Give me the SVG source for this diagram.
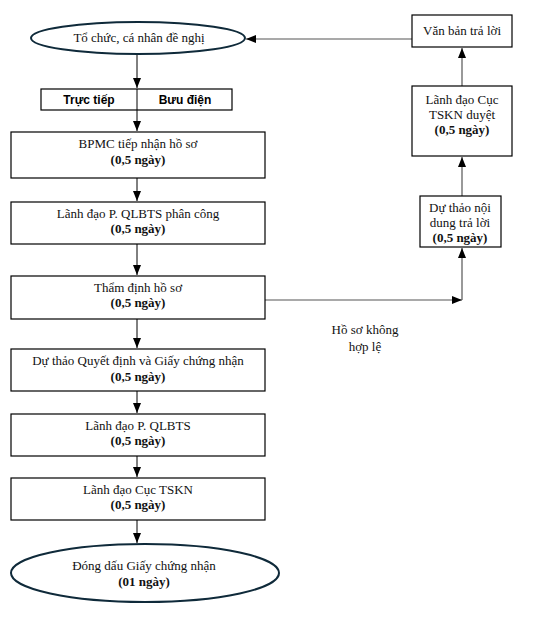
<svg xmlns="http://www.w3.org/2000/svg" width="541" height="619" viewBox="0 0 541 619">
<style>
.t{font-family:"Liberation Serif","Times New Roman",serif;font-size:13px;fill:#111;text-anchor:middle}
.b{font-weight:bold}
.h{font-family:"Liberation Sans Narrow","Liberation Sans",Arial,sans-serif;font-size:12px;font-weight:bold;fill:#000;text-anchor:middle}
.box{fill:#fff;stroke:#000;stroke-width:1.2}
.ell{fill:#fff;stroke:#0f2a3a;stroke-width:2}
.c{fill:none;stroke:#000;stroke-width:1}
.cg{fill:none;stroke:#555;stroke-width:1.2}
</style>
<defs>
<marker id="ah" markerUnits="userSpaceOnUse" markerWidth="10" markerHeight="10" viewBox="0 0 10 10" refX="10" refY="5" orient="auto">
<path d="M0,1 L10,5 L0,9 Z" fill="#000"/>
</marker>
</defs>
<g id="connectors">
<path class="c" d="M137,54 V88" marker-end="url(#ah)"/>
<path class="c" d="M137,110 V131" marker-end="url(#ah)"/>
<path class="c" d="M137,178 V201" marker-end="url(#ah)"/>
<path class="c" d="M137,244 V275" marker-end="url(#ah)"/>
<path class="c" d="M137,319 V348" marker-end="url(#ah)"/>
<path class="c" d="M137,391 V413" marker-end="url(#ah)"/>
<path class="c" d="M137,456 V477" marker-end="url(#ah)"/>
<path class="c" d="M137,520 V543" marker-end="url(#ah)"/>
<path class="cg" d="M265,300 H462" marker-end="url(#ah)"/>
<path class="cg" d="M462,300 V248" marker-end="url(#ah)"/>
<path class="cg" d="M462,196 V157" marker-end="url(#ah)"/>
<path class="cg" d="M462,86 V48" marker-end="url(#ah)"/>
<path class="cg" d="M412,39 H246" marker-end="url(#ah)"/>
<text class="t" x="365" y="334">Hồ sơ không</text>
<text class="t" x="365" y="351">hợp lệ</text>
</g>
<g id="n-start">
<ellipse class="ell" cx="138" cy="38" rx="107" ry="16"/>
<text class="t" x="139" y="42">Tổ chức, cá nhân đề nghị</text>
</g>
<g id="n-channel">
<rect class="box" x="41" y="89" width="191" height="21"/>
<line x1="137" y1="89" x2="137" y2="110" stroke="#000" stroke-width="1"/>
<text class="h" x="89" y="104">Trực tiếp</text>
<text class="h" x="185" y="104">Bưu điện</text>
</g>
<g id="n-bpmc">
<rect class="box" x="11" y="132" width="254" height="46"/>
<text class="t" x="138" y="148">BPMC tiếp nhận hồ sơ</text>
<text class="t b" x="138" y="164">(0,5 ngày)</text>
</g>
<g id="n-phancong">
<rect class="box" x="11" y="202" width="254" height="42"/>
<text class="t" x="138" y="218">Lãnh đạo P. QLBTS phân công</text>
<text class="t b" x="138" y="233">(0,5 ngày)</text>
</g>
<g id="n-thamdinh">
<rect class="box" x="11" y="276" width="254" height="43"/>
<text class="t" x="138" y="292">Thẩm định hồ sơ</text>
<text class="t b" x="138" y="307">(0,5 ngày)</text>
</g>
<g id="n-duthaoqd">
<rect class="box" x="11" y="349" width="254" height="42"/>
<text class="t" x="138" y="365">Dự thảo Quyết định và Giấy chứng nhận</text>
<text class="t b" x="138" y="381">(0,5 ngày)</text>
</g>
<g id="n-qlbts">
<rect class="box" x="11" y="414" width="254" height="42"/>
<text class="t" x="138" y="430">Lãnh đạo P. QLBTS</text>
<text class="t b" x="138" y="445">(0,5 ngày)</text>
</g>
<g id="n-tskn">
<rect class="box" x="11" y="478" width="254" height="42"/>
<text class="t" x="138" y="494">Lãnh đạo Cục TSKN</text>
<text class="t b" x="138" y="509">(0,5 ngày)</text>
</g>
<g id="n-end">
<ellipse class="ell" cx="145" cy="573" rx="134" ry="29"/>
<text class="t" x="144" y="570">Đóng dấu Giấy chứng nhận</text>
<text class="t b" x="144" y="586">(01 ngày)</text>
</g>
<g id="n-vanban">
<rect class="box" x="412" y="15" width="100" height="32"/>
<text class="t" x="462" y="35">Văn bản trả lời</text>
</g>
<g id="n-duyet">
<rect class="box" x="412" y="86" width="100" height="70"/>
<text class="t" x="462" y="104">Lãnh đạo Cục</text>
<text class="t" x="462" y="119">TSKN duyệt</text>
<text class="t b" x="462" y="134">(0,5 ngày)</text>
</g>
<g id="n-duthao">
<rect class="box" x="420" y="196" width="81" height="51"/>
<text class="t" x="460" y="212">Dự thảo nội</text>
<text class="t" x="460" y="227">dung trả lời</text>
<text class="t b" x="460" y="242">(0,5 ngày)</text>
</g>
</svg>
